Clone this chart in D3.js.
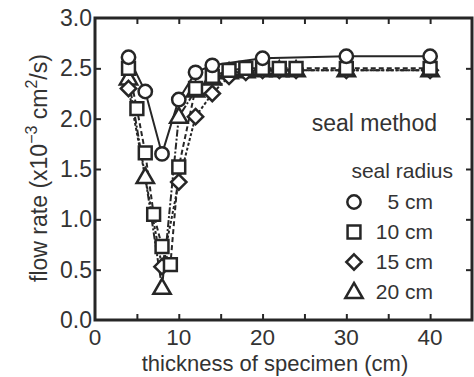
<!DOCTYPE html>
<html><head><meta charset="utf-8">
<script src="https://cdn.jsdelivr.net/npm/d3@7"></script>
<style>
html,body{margin:0;padding:0;background:#fff;}
svg{display:block;font-family:"Liberation Sans",Arial,sans-serif;}
</style></head>
<body><svg id="c" width="474" height="377"></svg>
<script>
const xTicks = [0, 10, 20, 30, 40];
const xMinorTicks = [5, 10, 15, 20, 25, 30, 35, 40];
const yTicks = [0.0, 0.5, 1.0, 1.5, 2.0, 2.5, 3.0];

const circleX = [4, 6, 8, 10, 12, 14, 20, 30, 40];
const circleY = [2.61, 2.27, 1.65, 2.19, 2.46, 2.53, 2.6, 2.62, 2.62];

const squareX = [4, 5, 6, 7, 8, 9, 10, 12, 14, 16, 18, 20, 22, 24, 30, 40];
const squareY = [2.5, 2.1, 1.66, 1.05, 0.73, 0.55, 1.52, 2.3, 2.42, 2.48, 2.5, 2.5, 2.5, 2.5, 2.5, 2.5];

const diamondX = [4, 8, 10, 12, 14, 16, 18, 20, 22, 24, 30, 40];
const diamondY = [2.3, 0.53, 1.37, 2.02, 2.25, 2.42, 2.46, 2.48, 2.48, 2.48, 2.48, 2.48];

const triangleX = [4, 6, 8, 10, 12, 14, 16, 18, 20, 22, 24, 30, 40];
const triangleY = [2.4, 1.42, 0.32, 2.02, 2.28, 2.4, 2.46, 2.47, 2.48, 2.48, 2.48, 2.48, 2.48];

const legendLabels = ["5 cm", "10 cm", "15 cm", "20 cm"];

const ink = "#262626";
const svg = d3.select("#c");
const L = 95, R = 472, T = 18, B = 320;
const x = d3.scaleLinear().domain([0, 45]).range([L, R]);
const y = d3.scaleLinear().domain([0, 3]).range([B, T]);

// ticks (inward)
const tk = 6;
svg.append("g").attr("transform", `translate(0,${B})`)
  .call(d3.axisBottom(x).tickValues(xMinorTicks).tickSizeInner(-tk).tickSizeOuter(0).tickFormat(""))
  .call(g => g.select(".domain").remove())
  .call(g => g.selectAll("line").attr("stroke", ink).attr("stroke-width", 2));
svg.append("g").attr("transform", `translate(0,${T})`)
  .call(d3.axisTop(x).tickValues(xMinorTicks).tickSizeInner(-tk).tickSizeOuter(0).tickFormat(""))
  .call(g => g.select(".domain").remove())
  .call(g => g.selectAll("line").attr("stroke", ink).attr("stroke-width", 2));
svg.append("g").attr("transform", `translate(${L},0)`)
  .call(d3.axisLeft(y).tickValues(yTicks.slice(1, -1)).tickSizeInner(-tk).tickSizeOuter(0).tickFormat(""))
  .call(g => g.select(".domain").remove())
  .call(g => g.selectAll("line").attr("stroke", ink).attr("stroke-width", 2));
svg.append("g").attr("transform", `translate(${R},0)`)
  .call(d3.axisRight(y).tickValues(yTicks.slice(1, -1)).tickSizeInner(-tk).tickSizeOuter(0).tickFormat(""))
  .call(g => g.select(".domain").remove())
  .call(g => g.selectAll("line").attr("stroke", ink).attr("stroke-width", 2));

// frame
svg.append("rect").attr("x", L).attr("y", T).attr("width", R - L).attr("height", B - T)
  .attr("fill", "none").attr("stroke", ink).attr("stroke-width", 3);

// tick labels
svg.append("g").selectAll("text").data(xTicks).join("text")
  .attr("x", d => x(d)).attr("y", 345).attr("text-anchor", "middle")
  .attr("font-size", 22.5).attr("fill", "#333").text(d => d);
svg.append("g").selectAll("text").data(yTicks).join("text")
  .attr("x", 92).attr("y", d => y(d) + 8).attr("text-anchor", "end")
  .attr("font-size", 23).attr("fill", "#333").text(d => d.toFixed(1));

// axis titles
svg.append("text").attr("x", (135 + 415) / 2).attr("y", 371).attr("text-anchor", "middle")
  .attr("font-size", 22).attr("fill", "#333").text("thickness of specimen (cm)");
const yt = svg.append("text").attr("transform", "translate(47,168) rotate(-90)")
  .attr("text-anchor", "middle").attr("font-size", 23).attr("fill", "#333");
yt.append("tspan").text("flow rate (x10");
yt.append("tspan").attr("dy", -10).attr("font-size", 16).text("−3");
yt.append("tspan").attr("dy", 10).text(" cm");
yt.append("tspan").attr("dy", -10).attr("font-size", 16).text("2");
yt.append("tspan").attr("dy", 10).text("/s)");

// series
const series = [
  {xs: circleX, ys: circleY, sym: d3.symbolCircle, size: 140, dash: null, dy: 0},
  {xs: squareX, ys: squareY, sym: d3.symbolSquare, size: 165, dash: "5,3", dy: 0},
  {xs: diamondX, ys: diamondY, sym: d3.symbolDiamond2, size: 150, dash: "3,2", dy: 0},
  {xs: triangleX, ys: triangleY, sym: d3.symbolTriangle, size: 130, dash: "7,2,2,2", dy: 1}
];
const line = d3.line().x(d => x(d[0])).y(d => y(d[1]));
series.forEach(s => {
  const pts = s.xs.map((v, i) => [v, s.ys[i]]);
  svg.append("path").attr("d", line(pts)).attr("fill", "none")
    .attr("stroke", ink).attr("stroke-width", 2)
    .attr("stroke-dasharray", s.dash);
});
series.slice().reverse().forEach(s => {
  const pts = s.xs.map((v, i) => [v, s.ys[i]]);
  svg.append("g").selectAll("path").data(pts).join("path")
    .attr("d", d3.symbol().type(s.sym).size(s.size))
    .attr("transform", d => `translate(${x(d[0])},${y(d[1]) + s.dy})`)
    .attr("fill", "#fff").attr("stroke", ink).attr("stroke-width", 2.5);
});

// legend
svg.append("text").attr("x", 437).attr("y", 131).attr("text-anchor", "end")
  .attr("font-size", 23).attr("fill", "#333").text("seal method");
svg.append("text").attr("x", 453).attr("y", 178).attr("text-anchor", "end")
  .attr("font-size", 21).attr("fill", "#333").text("seal radius");
const ly = [202, 232, 262, 292];
series.forEach((s, i) => {
  svg.append("path").attr("d", d3.symbol().type(s.sym).size(s.size)())
    .attr("transform", `translate(354,${ly[i] + s.dy})`)
    .attr("fill", "#fff").attr("stroke", ink).attr("stroke-width", 2.5);
  svg.append("text").attr("x", 433).attr("y", ly[i] + 7).attr("text-anchor", "end")
    .attr("font-size", 21).attr("fill", "#333").text(legendLabels[i]);
});
</script></body></html>
